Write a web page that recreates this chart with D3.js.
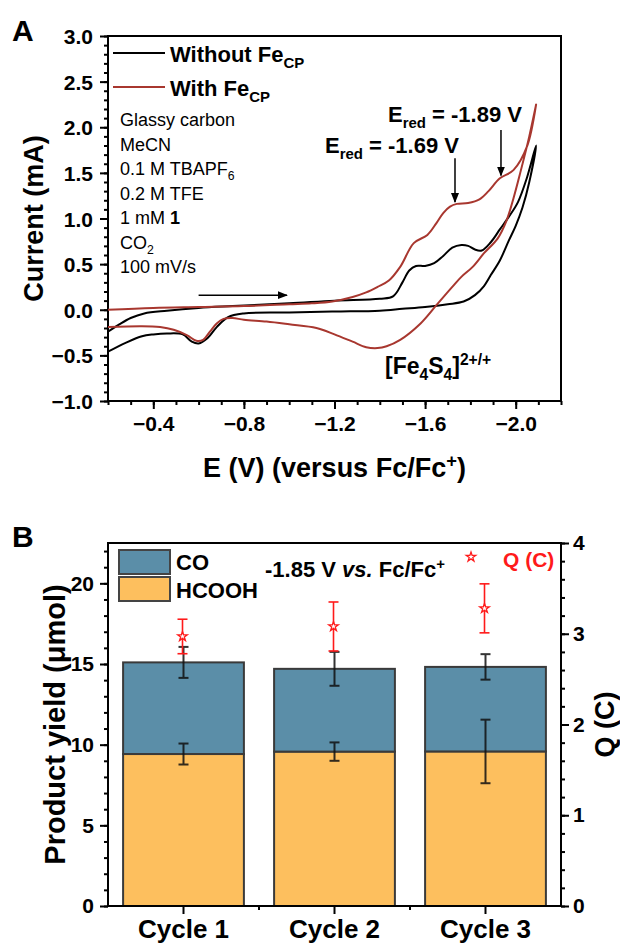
<!DOCTYPE html>
<html>
<head>
<meta charset="utf-8">
<script src="https://cdn.jsdelivr.net/npm/d3@7"></script>
<style>
  body { margin: 0; background: #fff; }
  svg text { font-family: "Liberation Sans", Arial, Helvetica, sans-serif; }
</style>
</head>
<body>
<div id="chart"></div>
<script>
/* two panel figure: CV curves (A) and bulk electrolysis products (B) */

// ---- PANEL A DATA (E in V vs Fc/Fc+, current in mA) ----

// without Fe_CP, forward (cathodic) scan then return scan
var noFeForwardE = [-0.20, -0.25, -0.30, -0.36, -0.46, -0.60, -0.75, -1.00, -1.20, -1.40, -1.46, -1.50, -1.53, -1.56, -1.60, -1.64, -1.68, -1.72, -1.76, -1.79, -1.82, -1.85, -1.89, -1.93, -1.97, -2.01, -2.05, -2.09];
var noFeForwardI = [-0.24, -0.16, -0.09, -0.04, -0.01, 0.02, 0.04, 0.07, 0.10, 0.12, 0.15, 0.30, 0.43, 0.48, 0.48, 0.51, 0.59, 0.68, 0.71, 0.70, 0.66, 0.65, 0.74, 0.88, 1.02, 1.18, 1.45, 1.80];
var noFeReturnE = [-2.06, -2.03, -2.00, -1.97, -1.93, -1.89, -1.86, -1.82, -1.77, -1.70, -1.60, -1.50, -1.40, -1.20, -1.00, -0.80, -0.73, -0.68, -0.64, -0.60, -0.57, -0.53, -0.46, -0.40, -0.35, -0.28, -0.20];
var noFeReturnI = [1.40, 1.12, 0.92, 0.76, 0.54, 0.38, 0.26, 0.16, 0.09, 0.06, 0.03, 0.01, -0.01, -0.02, -0.03, -0.04, -0.08, -0.19, -0.31, -0.37, -0.35, -0.27, -0.26, -0.27, -0.29, -0.36, -0.46];

// with Fe_CP
var withFeForwardE = [-0.20, -0.40, -0.60, -0.80, -1.00, -1.10, -1.19, -1.28, -1.34, -1.39, -1.44, -1.49, -1.55, -1.61, -1.65, -1.68, -1.71, -1.74, -1.79, -1.84, -1.88, -1.93, -1.99, -2.05, -2.09];
var withFeForwardI = [0.00, 0.02, 0.03, 0.04, 0.06, 0.07, 0.09, 0.14, 0.19, 0.25, 0.32, 0.47, 0.73, 0.82, 0.95, 1.06, 1.13, 1.16, 1.17, 1.21, 1.30, 1.44, 1.53, 1.79, 2.25];
var withFeReturnE = [-2.06, -2.02, -1.99, -1.96, -1.92, -1.86, -1.81, -1.76, -1.72, -1.65, -1.58, -1.49, -1.43, -1.39, -1.34, -1.28, -1.20, -1.12, -1.00, -0.90, -0.80, -0.75, -0.71, -0.68, -0.65, -0.62, -0.59, -0.55, -0.49, -0.43, -0.35, -0.20];
var withFeReturnI = [1.90, 1.50, 1.22, 0.98, 0.78, 0.62, 0.47, 0.36, 0.25, 0.05, -0.15, -0.33, -0.40, -0.42, -0.41, -0.35, -0.27, -0.20, -0.16, -0.13, -0.11, -0.09, -0.10, -0.15, -0.24, -0.33, -0.34, -0.28, -0.22, -0.19, -0.18, -0.19];

var xTicksA = [-0.4, -0.8, -1.2, -1.6, -2.0];
var yTicksA = [-1.0, -0.5, 0.0, 0.5, 1.0, 1.5, 2.0, 2.5, 3.0];
var conditions = ["Glassy carbon", "MeCN", "0.1 M TBAPF6", "0.2 M TFE", "1 mM 1", "CO2", "100 mV/s"];

// peak markers: [potential, label]
var peakE = [-1.732, -1.935];
var peakLabels = ["-1.69 V", "-1.89 V"];

// ---- PANEL B DATA (µmol and C) ----
var cycles = ["Cycle 1", "Cycle 2", "Cycle 3"];
var hcoohYield = [9.42, 9.57, 9.58];
var hcoohErr = [0.65, 0.57, 1.97];
var coYield = [5.68, 5.13, 5.24];
var coErr = [0.96, 1.05, 0.79];
var charge = [2.97, 3.08, 3.28];
var chargeErr = [0.19, 0.27, 0.27];
var yTicksB = [0, 5, 10, 15, 20];
var qTicks = [0, 1, 2, 3, 4];

// ---- helpers ----
var FONT = "'Liberation Sans', Arial, sans-serif";

function richText(sel, x, y, parts, size, weight, fill) {
  var t = sel.append("text")
    .attr("x", x).attr("y", y)
    .attr("font-size", size + "px")
    .attr("font-weight", weight || "bold")
    .attr("fill", fill || "#000");
  var shift = 0;
  parts.forEach(function (p) {
    var s = typeof p === "string" ? p : p[0];
    var kind = typeof p === "string" ? "n" : p[1];
    var ts = t.append("tspan").text(s);
    var target = 0;
    if (kind === "sub") { target = size * 0.28; ts.attr("font-size", (size * 0.68) + "px"); }
    if (kind === "sup") { target = -size * 0.38; ts.attr("font-size", (size * 0.68) + "px"); }
    if (kind === "b") ts.attr("font-weight", "bold");
    if (kind === "i") ts.attr("font-style", "italic");
    ts.attr("dy", target - shift);
    shift = target;
  });
  return t;
}

function styleAxis(g, fontSize) {
  g.select(".domain").remove();
  g.selectAll(".tick line").attr("stroke", "#000").attr("stroke-width", 2);
  g.selectAll(".tick text")
    .attr("font-family", FONT)
    .attr("font-weight", "bold")
    .attr("font-size", fontSize + "px")
    .attr("fill", "#000");
}

var svg = d3.select("#chart").append("svg")
  .attr("width", 620)
  .attr("height", 943);

var defs = svg.append("defs");
defs.append("marker")
  .attr("id", "arrowhead")
  .attr("viewBox", "0 0 10 10")
  .attr("refX", 9).attr("refY", 5)
  .attr("markerWidth", 10).attr("markerHeight", 10)
  .attr("markerUnits", "userSpaceOnUse")
  .attr("orient", "auto")
  .append("path")
  .attr("d", "M0,1 L10,5 L0,9 Z")
  .attr("fill", "#000");

// ================= PANEL A =================
var A = {left: 108, right: 561, top: 36, bottom: 401};

var xA = d3.scaleLinear().domain([-0.2, -2.2]).range([A.left, A.right]);
var yA = d3.scaleLinear().domain([-1, 3]).range([A.bottom, A.top]);

defs.append("clipPath").attr("id", "clipA")
  .append("rect")
  .attr("x", A.left).attr("y", A.top)
  .attr("width", A.right - A.left).attr("height", A.bottom - A.top);

var gA = svg.append("g");

// minor ticks
gA.append("g")
  .attr("transform", "translate(0," + A.bottom + ")")
  .call(d3.axisBottom(xA).tickValues(d3.range(-0.2, -2.21, -0.1)).tickSize(4).tickFormat(""))
  .call(function (g) { styleAxis(g, 21); });
gA.append("g")
  .attr("transform", "translate(" + A.left + ",0)")
  .call(d3.axisLeft(yA).tickValues(d3.range(-1, 3.01, 0.1)).tickSize(4).tickFormat(""))
  .call(function (g) { styleAxis(g, 21); });

// major ticks
gA.append("g")
  .attr("transform", "translate(0," + A.bottom + ")")
  .call(d3.axisBottom(xA).tickValues(xTicksA).tickSize(8).tickPadding(7).tickFormat(d3.format(".1f")))
  .call(function (g) { styleAxis(g, 21); });
gA.append("g")
  .attr("transform", "translate(" + A.left + ",0)")
  .call(d3.axisLeft(yA).tickValues(yTicksA).tickSize(8).tickPadding(7).tickFormat(d3.format(".1f")))
  .call(function (g) { styleAxis(g, 21); g.selectAll(".tick text").attr("dy", "0.36em"); });

// frame
gA.append("rect")
  .attr("x", A.left).attr("y", A.top)
  .attr("width", A.right - A.left).attr("height", A.bottom - A.top)
  .attr("fill", "none").attr("stroke", "#000").attr("stroke-width", 2);

// curves
var cvLine = d3.line()
  .x(function (d) { return xA(d[0]); })
  .y(function (d) { return yA(d[1]); })
  .curve(d3.curveCatmullRom.alpha(0.5));

function pairs(E, I) { return E.map(function (e, i) { return [e, I[i]]; }); }

var noFeData = pairs(noFeForwardE, noFeForwardI).concat(pairs(noFeReturnE, noFeReturnI));
var withFeData = pairs(withFeForwardE, withFeForwardI).concat(pairs(withFeReturnE, withFeReturnI));

var curves = gA.append("g").attr("clip-path", "url(#clipA)");
curves.append("path")
  .datum(noFeData)
  .attr("fill", "none").attr("stroke", "#000").attr("stroke-width", 2)
  .attr("d", cvLine);
curves.append("path")
  .datum(withFeData)
  .attr("fill", "none").attr("stroke", "#a8372f").attr("stroke-width", 2)
  .attr("d", cvLine);

// legend
gA.append("line").attr("x1", 113).attr("x2", 165).attr("y1", 53).attr("y2", 53)
  .attr("stroke", "#000").attr("stroke-width", 2);
gA.append("line").attr("x1", 113).attr("x2", 165).attr("y1", 87).attr("y2", 87)
  .attr("stroke", "#a8372f").attr("stroke-width", 2);
richText(gA, 170, 62, ["Without Fe", ["CP", "sub"]], 22, "bold");
richText(gA, 170, 96, ["With Fe", ["CP", "sub"]], 22, "bold");

// experimental conditions
var condParts = [
  [conditions[0]],
  [conditions[1]],
  ["0.1 M TBAPF", ["6", "sub"]],
  [conditions[3]],
  ["1 mM ", ["1", "b"]],
  ["CO", ["2", "sub"]],
  [conditions[6]]
];
condParts.forEach(function (p, i) {
  richText(gA, 120, 126 + i * 24.5, p, 18, "normal");
});

// scan direction arrow
gA.append("line")
  .attr("x1", xA(-0.60)).attr("x2", xA(-0.99))
  .attr("y1", yA(0.16)).attr("y2", yA(0.16))
  .attr("stroke", "#000").attr("stroke-width", 1.5)
  .attr("marker-end", "url(#arrowhead)");

// E_red arrows and labels
var peakTop = [1.66, 1.97];
var peakTip = [1.18, 1.47];
peakE.forEach(function (e, i) {
  gA.append("line")
    .attr("x1", xA(e)).attr("x2", xA(e))
    .attr("y1", yA(peakTop[i])).attr("y2", yA(peakTip[i]))
    .attr("stroke", "#000").attr("stroke-width", 1.5)
    .attr("marker-end", "url(#arrowhead)");
});
richText(gA, 325, 153, ["E", ["red", "sub"], " = " + peakLabels[0]], 22, "bold");
richText(gA, 388, 122, ["E", ["red", "sub"], " = " + peakLabels[1]], 22, "bold");

// cluster label
richText(gA, 385, 374, ["[Fe", ["4", "sub"], "S", ["4", "sub"], "]", ["2+/+", "sup"]], 23, "bold");

// titles
svg.append("text").attr("x", 12).attr("y", 41)
  .attr("font-size", "30px").attr("font-weight", "bold").text("A");

svg.append("text")
  .attr("transform", "translate(43," + ((A.top + A.bottom) / 2) + ") rotate(-90)")
  .attr("text-anchor", "middle")
  .attr("font-size", "27px").attr("font-weight", "bold")
  .text("Current (mA)");

richText(svg, (A.left + A.right) / 2, 477, ["E (V) (versus Fc/Fc", ["+", "sup"], ")"], 27, "bold")
  .attr("text-anchor", "middle");

// ================= PANEL B =================
var B = {left: 108, right: 561, top: 543, bottom: 906};

var xB = d3.scaleBand().domain(cycles).range([B.left, B.right]).paddingInner(0.2).paddingOuter(0.1);
var yB = d3.scaleLinear().domain([0, 22.5]).range([B.bottom, B.top]);
var qB = d3.scaleLinear().domain([0, 4]).range([B.bottom, B.top]);

var gB = svg.append("g");

var coColor = "#5b8ea8";
var hcoohColor = "#fdbf5e";

// stacked bars: HCOOH below, CO on top
gB.selectAll(".bar-hcooh")
  .data(cycles)
  .enter().append("rect")
  .attr("class", "bar-hcooh")
  .attr("x", function (d) { return xB(d); })
  .attr("width", xB.bandwidth())
  .attr("y", function (d, i) { return yB(hcoohYield[i]); })
  .attr("height", function (d, i) { return yB(0) - yB(hcoohYield[i]); })
  .attr("fill", hcoohColor).attr("stroke", "#3a3a3a").attr("stroke-width", 2);

gB.selectAll(".bar-co")
  .data(cycles)
  .enter().append("rect")
  .attr("class", "bar-co")
  .attr("x", function (d) { return xB(d); })
  .attr("width", xB.bandwidth())
  .attr("y", function (d, i) { return yB(hcoohYield[i] + coYield[i]); })
  .attr("height", function (d, i) { return yB(hcoohYield[i]) - yB(hcoohYield[i] + coYield[i]); })
  .attr("fill", coColor).attr("stroke", "#3a3a3a").attr("stroke-width", 2);

function errorBar(g, cx, yTop, yBot, color, width) {
  g.append("line").attr("x1", cx).attr("x2", cx).attr("y1", yTop).attr("y2", yBot)
    .attr("stroke", color).attr("stroke-width", width);
  [yTop, yBot].forEach(function (y) {
    g.append("line").attr("x1", cx - 5).attr("x2", cx + 5).attr("y1", y).attr("y2", y)
      .attr("stroke", color).attr("stroke-width", width);
  });
}

var errG = gB.append("g").attr("opacity", 0.85);
cycles.forEach(function (c, i) {
  var cx = xB(c) + xB.bandwidth() / 2;
  errorBar(errG, cx, yB(hcoohYield[i] + hcoohErr[i]), yB(hcoohYield[i] - hcoohErr[i]), "#111", 2);
  var tot = hcoohYield[i] + coYield[i];
  errorBar(errG, cx, yB(tot + coErr[i]), yB(tot - coErr[i]), "#111", 2);
});

var star = d3.symbol().type(d3.symbolStar).size(28);
cycles.forEach(function (c, i) {
  var cx = xB(c) + xB.bandwidth() / 2 - 1;
  errorBar(gB, cx, qB(charge[i] + chargeErr[i]), qB(charge[i] - chargeErr[i]), "#ff1a1a", 1.6);
  gB.append("path")
    .attr("d", star)
    .attr("transform", "translate(" + cx + "," + qB(charge[i]) + ")")
    .attr("fill", "#fff").attr("stroke", "#ff1a1a").attr("stroke-width", 1.3);
});

// axes
gB.append("g")
  .attr("transform", "translate(" + B.left + ",0)")
  .call(d3.axisLeft(yB).tickValues(d3.range(0, 22.5, 1)).tickSize(4).tickFormat(""))
  .call(function (g) { styleAxis(g, 21); });
gB.append("g")
  .attr("transform", "translate(" + B.left + ",0)")
  .call(d3.axisLeft(yB).tickValues(yTicksB).tickSize(8).tickPadding(6).tickFormat(d3.format("d")))
  .call(function (g) { styleAxis(g, 21); });

gB.append("g")
  .attr("transform", "translate(" + B.right + ",0)")
  .call(d3.axisRight(qB).tickValues(d3.range(0, 4.01, 0.2)).tickSize(4).tickFormat(""))
  .call(function (g) { styleAxis(g, 21); });
gB.append("g")
  .attr("transform", "translate(" + B.right + ",0)")
  .call(d3.axisRight(qB).tickValues(qTicks).tickSize(8).tickPadding(4).tickFormat(d3.format("d")))
  .call(function (g) { styleAxis(g, 21); });

// x axis: major at bar centres, minor between bars
var bandEdges = cycles.slice(1).map(function (c) { return xB(c) - xB.step() * xB.paddingInner() / 2; });
gB.selectAll(".minor-x")
  .data(bandEdges)
  .enter().append("line")
  .attr("x1", function (d) { return d; }).attr("x2", function (d) { return d; })
  .attr("y1", B.bottom).attr("y2", B.bottom + 4)
  .attr("stroke", "#000").attr("stroke-width", 2);
gB.append("g")
  .attr("transform", "translate(0," + B.bottom + ")")
  .call(d3.axisBottom(xB).tickSize(8).tickPadding(6))
  .call(function (g) { styleAxis(g, 26); });

gB.append("rect")
  .attr("x", B.left).attr("y", B.top)
  .attr("width", B.right - B.left).attr("height", B.bottom - B.top)
  .attr("fill", "none").attr("stroke", "#000").attr("stroke-width", 2);

// legend
var legendB = [["CO", coColor], ["HCOOH", hcoohColor]];
legendB.forEach(function (d, i) {
  gB.append("rect")
    .attr("x", 119).attr("y", 550 + i * 27)
    .attr("width", 51).attr("height", 24)
    .attr("fill", d[1]).attr("stroke", "#444").attr("stroke-width", 2);
  gB.append("text")
    .attr("x", 176).attr("y", 570 + i * 28)
    .attr("font-size", "22px").attr("font-weight", "bold")
    .text(d[0]);
});

richText(gB, 265, 577, ["-1.85 V ", ["vs.", "i"], " Fc/Fc", ["+", "sup"]], 22, "bold");

gB.append("path")
  .attr("d", star)
  .attr("transform", "translate(471,557)")
  .attr("fill", "#fff").attr("stroke", "#ff1a1a").attr("stroke-width", 1.3);
gB.append("text")
  .attr("x", 503).attr("y", 567)
  .attr("font-size", "21px").attr("font-weight", "bold").attr("fill", "#ff1a1a")
  .text("Q (C)");

// titles
svg.append("text").attr("x", 12).attr("y", 547)
  .attr("font-size", "30px").attr("font-weight", "bold").text("B");

svg.append("text")
  .attr("transform", "translate(65," + ((B.top + B.bottom) / 2) + ") rotate(-90)")
  .attr("text-anchor", "middle")
  .attr("font-size", "29px").attr("font-weight", "bold")
  .text("Product yield (\u03bcmol)");

svg.append("text")
  .attr("transform", "translate(614," + ((B.top + B.bottom) / 2) + ") rotate(-90)")
  .attr("text-anchor", "middle")
  .attr("font-size", "27px").attr("font-weight", "bold")
  .text("Q (C)");
</script>
</body>
</html>
